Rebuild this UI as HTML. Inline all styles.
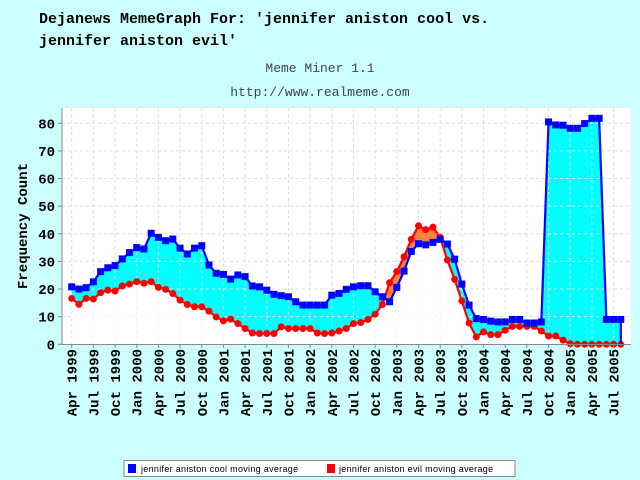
<!DOCTYPE html>
<html><head><meta charset="utf-8"><style>
body{margin:0;background:#ccffff;}
svg{display:block;font-family:"Liberation Mono",monospace;}
</style></head><body>
<svg width="640" height="480" viewBox="0 0 640 480">
<rect x="0" y="0" width="640" height="480" fill="#ccffff"/>
<text x="39" y="23" font-size="15" font-weight="bold" fill="#000">Dejanews MemeGraph For: 'jennifer aniston cool vs.</text>
<text x="39" y="45" font-size="15" font-weight="bold" fill="#000">jennifer aniston evil'</text>
<text x="320" y="72" font-size="13" fill="#444" text-anchor="middle">Meme Miner 1.1</text>
<text x="320" y="96" font-size="13" fill="#444" text-anchor="middle">http://www.realmeme.com</text>
<rect x="62" y="108" width="569" height="236" fill="#fff"/>
<g id="grid"></g>
<g id="fills"></g>
<g id="series"></g>
<line x1="62" y1="108" x2="62" y2="344.5" stroke="#888"/>
<line x1="62" y1="344.5" x2="631" y2="344.5" stroke="#888"/>
<g id="yticks"></g>
<g id="xticks"></g>
<text transform="translate(27,226) rotate(-90)" font-size="14" font-weight="bold" text-anchor="middle">Frequency Count</text>
<g>
<rect x="124" y="460.5" width="391" height="16" fill="#fff" stroke="#888"/>
<rect x="128" y="464" width="8" height="9" fill="#0000ff"/>
<text x="141" y="472" font-family="Liberation Sans, sans-serif" font-size="9" letter-spacing="0.3">jennifer aniston cool moving average</text>
<rect x="327" y="464" width="8" height="9" fill="#ff0000"/>
<text x="339" y="472" font-family="Liberation Sans, sans-serif" font-size="9" letter-spacing="0.3">jennifer aniston evil moving average</text>
</g>
</svg>
<script>
const cool=[20.8,20,20.5,22.6,26.3,27.7,28.5,30.9,33.2,35,34.5,40.2,38.7,37.5,38.1,34.8,32.7,34.8,35.7,28.7,25.7,25.3,23.6,25.1,24.5,21.1,20.8,19.6,18.1,17.6,17.2,15.4,14.2,14.2,14.2,14.2,17.8,18.4,19.9,20.8,21.2,21.2,19,17.2,15.4,20.6,26.5,33.6,36.4,36,36.9,38,36.3,30.8,21.8,14.2,9.3,9,8.4,8.1,8.1,9,9,7.7,7.7,8.1,80.5,79.4,79.3,78.2,78.2,79.9,81.8,81.8,9,9,9];
const evil=[16.6,14.5,16.6,16.4,18.7,19.6,19.3,21.1,21.8,22.7,22.1,22.7,20.6,19.9,18.4,16,14.4,13.6,13.6,12,9.9,8.5,9.1,7.5,5.7,4.1,3.9,3.9,3.9,6.3,5.7,5.7,5.7,5.7,4.1,3.9,4.1,4.8,5.7,7.5,7.9,9,10.9,14.4,22.3,26.3,31.7,38,42.9,41.5,42.4,38.7,30.5,23.5,15.7,7.7,2.7,4.5,3.5,3.5,5.1,6.5,6.5,6.5,6.5,4.8,3,3,1.5,0.2,0,0,0,0,0,0,0];
const yTicks=[0,10,20,30,40,50,60,70,80];
const xLabels=["Apr 1999","Jul 1999","Oct 1999","Jan 2000","Apr 2000","Jul 2000","Oct 2000","Jan 2001","Apr 2001","Jul 2001","Oct 2001","Jan 2002","Apr 2002","Jul 2002","Oct 2002","Jan 2003","Apr 2003","Jul 2003","Oct 2003","Jan 2004","Apr 2004","Jul 2004","Oct 2004","Jan 2005","Apr 2005","Jul 2005"];
const NS="http://www.w3.org/2000/svg";
const X0=71.7,DX=7.225,Y0=344.3,KY=2.7625;
const xs=i=>X0+i*DX, ys=v=>Y0-v*KY;
function mk(t,a,p){const e=document.createElementNS(NS,t);for(const k in a)e.setAttribute(k,a[k]);p.appendChild(e);return e;}
const grid=document.getElementById('grid'),yt=document.getElementById('yticks'),xt=document.getElementById('xticks');
yTicks.forEach(v=>{const y=ys(v);
 if(v>0){const g=mk('line',{x1:62,x2:631,y1:y,y2:y,stroke:'#ddd','stroke-dasharray':'3,3'},grid);
 
 }
 const tk=mk('line',{x1:58,x2:62,y1:y,y2:y,stroke:'#888'},yt);
 
 
 const t=mk('text',{x:55,y:y+5,'font-size':14,'font-weight':'bold','text-anchor':'end'},yt);t.textContent=v;
 
 
});
xLabels.forEach((l,k)=>{const x=xs(k*3);
 const g=mk('line',{x1:x,x2:x,y1:108,y2:344,stroke:'#ddd','stroke-dasharray':'3,3'},grid);
 
 
 const tk=mk('line',{x1:x,x2:x,y1:344,y2:348,stroke:'#888'},xt);
 
 
 const t=mk('text',{transform:`translate(${x+5},349) rotate(-90)`,'font-size':14,'font-weight':'bold','text-anchor':'end'},xt);t.textContent=l;
 
 
});
const cp=cool.map((v,i)=>[xs(i),ys(v)]), ep=evil.map((v,i)=>[xs(i),ys(v)]);
const pts=a=>a.map(p=>p[0].toFixed(2)+','+p[1].toFixed(2)).join(' ');
const between=pts(cp)+' '+pts(ep.slice().reverse());
const defs=mk('defs',{},document.querySelector('svg'));
const c1=mk('clipPath',{id:'underCool'},defs);mk('polygon',{points:pts(cp)+` ${xs(cool.length-1)},${Y0} ${xs(0)},${Y0}`},c1);
const c2=mk('clipPath',{id:'underEvil'},defs);mk('polygon',{points:pts(ep)+` ${xs(evil.length-1)},${Y0} ${xs(0)},${Y0}`},c2);
const fills=document.getElementById('fills');
const f1=mk('polygon',{points:between,fill:'#00ffff','clip-path':'url(#underCool)'},fills);


const f2=mk('polygon',{points:between,fill:'#ff8040','clip-path':'url(#underEvil)'},fills);


yTicks.forEach(v=>{if(v>0){const y=ys(v);const g=mk('line',{x1:62,x2:631,y1:y,y2:y,stroke:'#fff','stroke-dasharray':'3,3','stroke-opacity':0.8,'clip-path':'url(#underCool)'},fills);
 
 }});
xLabels.forEach((l,k)=>{const x=xs(k*3);const g=mk('line',{x1:x,x2:x,y1:108,y2:344,stroke:'#fff','stroke-dasharray':'3,3','stroke-opacity':0.8,'clip-path':'url(#underCool)'},fills);
 
 });
const ser=document.getElementById('series');
const le=mk('polyline',{points:pts(ep),fill:'none',stroke:'#ff0000','stroke-width':2.2},ser);


ep.forEach(p=>{const m=mk('circle',{cx:p[0],cy:p[1],r:3.5,fill:'#ff0000'},ser);
 
 });
const last=cp[cp.length-1];
const lc=mk('polyline',{points:pts(cp)+` ${last[0].toFixed(2)},${Y0}`,fill:'none',stroke:'#0000ff','stroke-width':2.2},ser);


cp.forEach(p=>{const m=mk('rect',{x:p[0]-3.5,y:p[1]-3.5,width:7,height:7,fill:'#0000ff'},ser);
 
 });
</script>
</body></html>
